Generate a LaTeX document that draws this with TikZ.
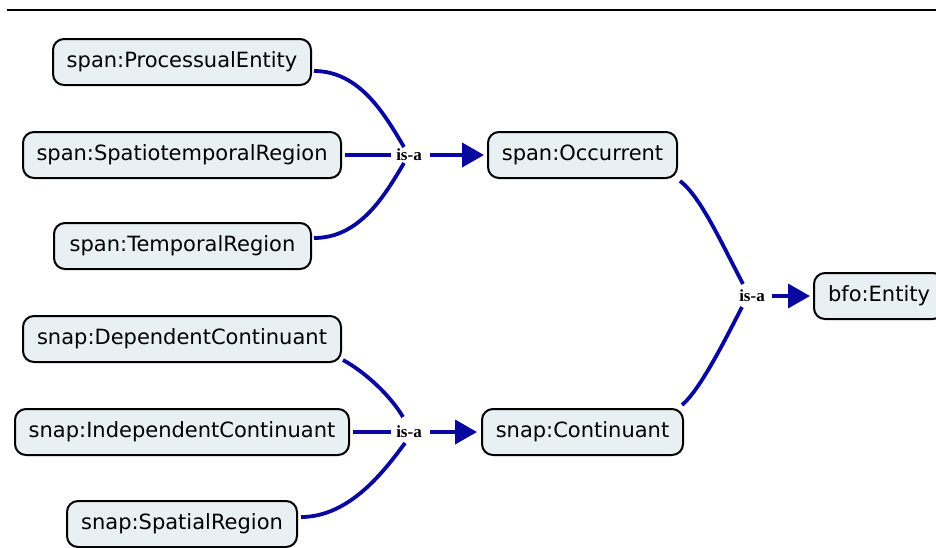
\documentclass[tikz,border=0pt]{standalone}
\usepackage{fontspec}
\setmainfont{DejaVu Sans}
\newfontfamily\labelfont{Liberation Serif}
\usetikzlibrary{arrows.meta,calc}
\definecolor{boxfill}{RGB}{232,240,244}
\definecolor{linkblue}{RGB}{8,8,160}
\tikzset{
  concept/.style={draw=black, line width=2pt, rounded corners=11pt, fill=boxfill,
    minimum height=46pt, inner sep=0pt, font=\fontsize{21}{24}\selectfont, text=black},
  isalabel/.style={inner xsep=5pt, inner ysep=2pt, font=\labelfont\bfseries\fontsize{17}{19}\selectfont},
  link/.style={draw=linkblue, line width=3.8pt},
  linkarrow/.style={link, -{Triangle[length=22pt,width=24pt]}}
}
\begin{document}
\begin{tikzpicture}[x=1pt,y=-1pt]
\useasboundingbox (0,0) rectangle (936,547);
\draw[line width=2.5pt] (7,10) -- (936,10);
% concepts
\node[concept, minimum width=258pt] (pe)  at (182,62)  {span:ProcessualEntity};
\node[concept, minimum width=318pt] (st)  at (182,155) {span:SpatiotemporalRegion};
\node[concept, minimum width=257pt] (tr)  at (182.5,246) {span:TemporalRegion};
\node[concept, minimum width=189pt] (occ) at (582.5,155) {span:Occurrent};
\node[concept, minimum width=130pt] (ent) at (879,296) {bfo:Entity};
\node[concept, minimum width=318pt] (dc)  at (182,339) {snap:DependentContinuant};
\node[concept, minimum width=334pt] (ic)  at (182,432) {snap:IndependentContinuant};
\node[concept, minimum width=230pt] (sr)  at (182,524) {snap:SpatialRegion};
\node[concept, minimum width=201pt] (con) at (582.5,432) {snap:Continuant};
% labels
\node[isalabel] (l1) at (409,155) {is-a};
\node[isalabel] (l2) at (752,296) {is-a};
\node[isalabel] (l3) at (409,432) {is-a};
% coordinates for link ends
\coordinate (l1a) at ($(l1)+(-5,-8)$);
\coordinate (l1b) at ($(l1)+(-5,8)$);
\coordinate (l3a) at ($(l3)+(-6,-15)$);
\coordinate (l3b) at ($(l3)+(-4,11)$);
\coordinate (l2a) at ($(l2)+(-9,-12)$);
\coordinate (l2b) at ($(l2)+(-10,11)$);
% top group
\draw[link] ($(pe.east)+(2,9)$) .. controls (360,71) and (385,115) .. (l1a);
\draw[link, shorten <=3pt] (st.east) -- (l1.west);
\draw[link] ($(tr.east)+(2,-8)$) .. controls (360,238) and (385,195) .. (l1b);
\draw[linkarrow, shorten <=3pt, shorten >=3pt] (l1.east) -- (occ.west);
% bottom group
\draw[link] ($(dc.east)+(1,21)$) .. controls (365,372) and (390,395) .. (l3a);
\draw[link, shorten <=3pt] (ic.east) -- (l3.west);
\draw[link] ($(sr.east)+(3,-7)$) .. controls (350,517) and (385,470) .. (l3b);
\draw[linkarrow, shorten <=3pt, shorten >=4pt] (l3.east) -- (con.west);
% right group
\draw[link] ($(occ.east)+(2,26)$) .. controls (700,196) and (720,240) .. (l2a);
\draw[link] ($(con.east)+(-2,-27)$) .. controls (700,390) and (725,340) .. (l2b);
\draw[linkarrow, shorten <=2pt, shorten >=3pt] (l2.east) -- (ent.west);
\end{tikzpicture}
\end{document}
